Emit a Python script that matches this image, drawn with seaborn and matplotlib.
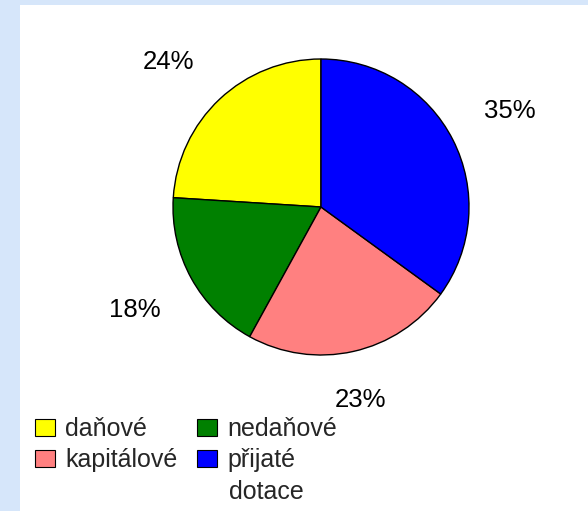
import matplotlib
matplotlib.use("Agg")
import numpy as np
import matplotlib.pyplot as plt
from matplotlib.text import Annotation
import seaborn as sns

categories = ["daňové", "nedaňové", "kapitálové", "přijaté\ndotace"]
values = [24, 18, 23, 35]
colors = ["#FFFF00", "#008000", "#FF8080", "#0000FF"]

# label placement (radius multiple, angle shift in degrees) per slice
label_dist = [1.425, 1.44, 1.33, 1.43]
label_shift = [3.3, 0.2, -1.1, 0.0]

sns.set_theme(style="white")
plt.rcParams['font.family'] = ['Liberation Sans', 'DejaVu Sans']

W, H = 588, 511
fig = plt.figure(figsize=(W / 100, H / 100), dpi=100)
fig.patch.set_facecolor("#D6E6FA")

bg = fig.add_axes([20 / W, 0, 1 - 20 / W, 1 - 5 / H])
bg.set_facecolor("white")
bg.set_xticks([])
bg.set_yticks([])
for s in bg.spines.values():
    s.set_visible(False)

cx, cy, r = 321, 207, 148
ax = fig.add_axes([(cx - r) / W, (H - cy - r) / H, 2 * r / W, 2 * r / H])
ax.set_facecolor("none")
wedges, texts, autotexts = ax.pie(
    values, colors=colors, startangle=90, counterclock=True,
    autopct="%d%%", pctdistance=1.43,
    wedgeprops=dict(edgecolor="black", linewidth=1),
    textprops=dict(fontsize=18.5, color="black"))
for w, t, d, s in zip(wedges, autotexts, label_dist, label_shift):
    a = np.deg2rad((w.theta1 + w.theta2) / 2 + s)
    t.set_position((d * np.cos(a), d * np.sin(a)))
ax.set_xlim(-1, 1)
ax.set_ylim(-1, 1)
ax.set_aspect("equal")
ax.axis("off")

# legend: first line of each label next to the swatch, further lines below it
order = [0, 2, 1, 3]
first_lines = [categories[i].split("\n")[0] for i in order]
leg = fig.legend([wedges[i] for i in order], first_lines,
                 ncol=2, loc="upper left", bbox_to_anchor=(35 / W, 1 - 417 / H),
                 frameon=False, fontsize=18, handlelength=0.8, handleheight=0.68,
                 handletextpad=0.4, columnspacing=0.8, labelspacing=0.29,
                 borderaxespad=0, borderpad=0)
for h in leg.legend_handles:
    h.set_edgecolor("black")
    h.set_linewidth(0.8)
for txt, i in zip(leg.get_texts(), order):
    extra = categories[i].split("\n")[1:]
    for k, line in enumerate(extra, start=1):
        an = Annotation(line, xy=(0, 0), xycoords=txt, xytext=(2, -32 * k),
                        textcoords="offset pixels", ha="left", va="bottom",
                        fontsize=18, annotation_clip=False, zorder=10)
        fig.add_artist(an)

fig.savefig("out.png", dpi=100)
